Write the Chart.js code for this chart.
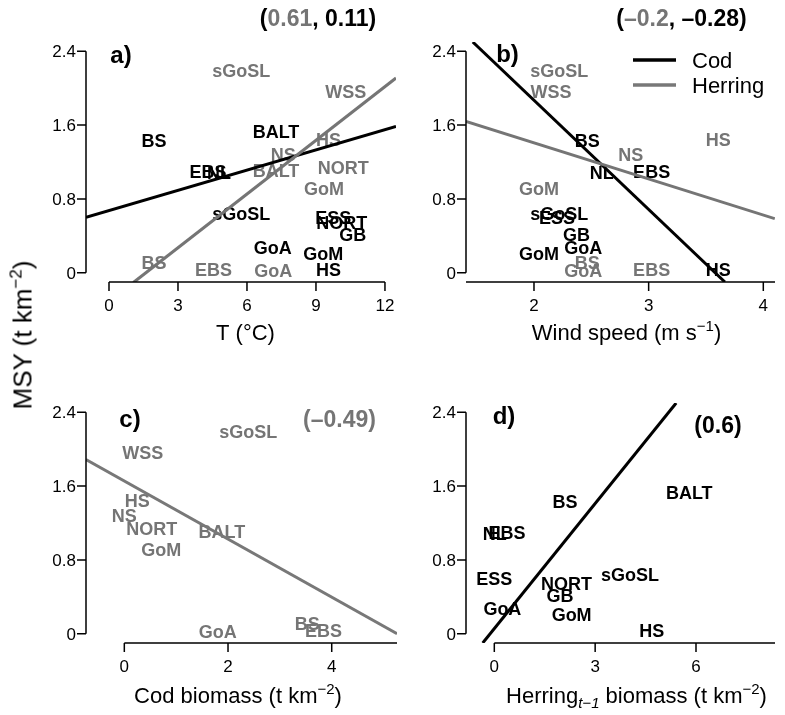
<!DOCTYPE html>
<html>
<head>
<meta charset="utf-8">
<script src="https://cdn.jsdelivr.net/npm/chart.js@4.4.1/dist/chart.umd.min.js"></script>
<style>
  html, body { margin: 0; padding: 0; background: #fff; }
  #wrap { position: relative; width: 785px; height: 715px; overflow: hidden; background: #fff; }
  canvas { position: absolute; }
  #ytitle {
    position: absolute; left: 23px; top: 335px;
    transform: translate(-50%, -50%) rotate(-90deg);
    white-space: nowrap;
    font: 26px "Liberation Sans", Arial, Helvetica, sans-serif;
    color: #000;
  }
  #ytitle sup { font-size: 17px; vertical-align: 10px; line-height: 0; }
</style>
</head>
<body>
<div id="wrap">
  <canvas id="pa" width="400" height="357" style="left:0;top:0;width:400px;height:357px"></canvas>
  <canvas id="pb" width="385" height="357" style="left:400px;top:0;width:385px;height:357px"></canvas>
  <canvas id="pc" width="400" height="358" style="left:0;top:357px;width:400px;height:358px"></canvas>
  <canvas id="pd" width="385" height="358" style="left:400px;top:357px;width:385px;height:358px"></canvas>
  <div id="ytitle">MSY (t km<sup>−2</sup>)</div>
</div>
<script>
// ---- stock data: MSY (t km^-2) against each driver ----
const codNames      = ['BS', 'EBS', 'NL', 'BALT', 'sGoSL', 'ESS', 'NORT', 'GB', 'GoA', 'GoM', 'HS'];
const codMSY        = [1.43, 1.10, 1.09, 1.53, 0.645, 0.60, 0.54, 0.42, 0.27, 0.21, 0.035];
const herringNames  = ['sGoSL', 'WSS', 'HS', 'NS', 'BALT', 'NORT', 'GoM', 'BS', 'EBS', 'GoA'];
const herringMSY    = [2.195, 1.965, 1.44, 1.28, 1.105, 1.145, 0.91, 0.115, 0.035, 0.02];

// a) temperature (°C)
const codTemp       = [1.96, 4.30, 4.78, 7.26, 5.75, 9.75, 10.12, 10.6, 7.12, 9.32, 9.54];
const herringTemp   = [5.75, 10.29, 9.54, 7.58, 7.26, 10.19, 9.35, 1.96, 4.54, 7.14];

// b) wind speed (m s^-1); BALT and NORT cod have no wind record
const codWindNames     = ['BS', 'NL', 'EBS', 'sGoSL', 'ESS', 'GB', 'GoA', 'GoM', 'HS'];
const codWindMSY       = [1.43, 1.09, 1.10, 0.645, 0.60, 0.42, 0.27, 0.21, 0.035];
const codWind          = [2.465, 2.59, 3.026, 2.22, 2.20, 2.37, 2.43, 2.044, 3.607];
const herringWindNames = ['sGoSL', 'WSS', 'NS', 'HS', 'GoM', 'BS', 'GoA', 'EBS'];
const herringWindMSY   = [2.195, 1.965, 1.28, 1.44, 0.91, 0.115, 0.02, 0.035];
const herringWind      = [2.22, 2.148, 2.843, 3.607, 2.044, 2.465, 2.43, 3.026];

// c) herring MSY against cod biomass (t km^-2)
const herringCodBiomass = [2.39, 0.355, 0.25, 0.0, 1.88, 0.53, 0.71, 3.53, 3.84, 1.80];

// d) cod MSY against lagged herring biomass (t km^-2)
const codHerringBiomass = [2.10, 0.38, 0.01, 5.80, 4.04, 0.0, 2.15, 1.955, 0.24, 2.30, 4.68];

// fitted regression lines, given by their end points
const fitTempCodX = [-1.0, 12.48],  fitTempCodY = [0.60, 1.585];
const fitTempHerX = [1.06, 12.48],  fitTempHerY = [-0.106, 2.11];
const fitWindCodX = [1.466, 3.665], fitWindCodY = [2.50, -0.10];
const fitWindHerX = [1.407, 4.10],  fitWindHerY = [1.639, 0.586];
const fitCodBioX  = [-0.74, 5.26],  fitCodBioY  = [1.887, 0.0];
const fitHerBioX  = [-0.345, 5.41], fitHerBioY  = [-0.10, 2.50];

// axis ticks
const yTicks      = [0, 0.8, 1.6, 2.4];
const yTickLabels = ['0', '0.8', '1.6', '2.4'];
const tempTicks   = [0, 3, 6, 9, 12];
const windTicks   = [1, 2, 3, 4, 5];
const codBioTicks = [0, 2, 4, 6];
const herBioTicks = [0, 3, 6, 9];

// ---- drawing helpers ----
const FONT = '"Liberation Sans", Arial, Helvetica, sans-serif';
const GREY = '#757575';
const BLACK = '#000000';

function fontOf(p) {
  return (p.i ? 'italic ' : '') + (p.b ? 'bold ' : '') + (p.s || 22) + 'px ' + FONT;
}
function rich(ctx, parts, x, y, align) {
  let w = 0;
  parts.forEach(p => { ctx.font = fontOf(p); p._w = ctx.measureText(p.t).width; w += p._w; });
  let cx = align === 'left' ? x : align === 'right' ? x - w : x - w / 2;
  ctx.textAlign = 'left';
  ctx.textBaseline = 'alphabetic';
  parts.forEach(p => {
    ctx.font = fontOf(p);
    ctx.fillStyle = p.c || BLACK;
    ctx.fillText(p.t, cx, y + (p.dy || 0));
    cx += p._w;
  });
}
const pts = (xs, ys) => xs.map((x, i) => ({ x: x, y: ys[i] }));

function labelSet(names, xs, ys, color) {
  return { names: names, textColor: color, data: pts(xs, ys), pointRadius: 0, pointHoverRadius: 0, showLine: false };
}
function fitLine(xs, ys, color) {
  return { data: pts(xs, ys), showLine: true, borderColor: color, borderWidth: 3,
           pointRadius: 0, pointHoverRadius: 0, clip: 0, fill: false, tension: 0 };
}

// stock names written at their data positions (under the fitted lines)
const textLabels = {
  id: 'textLabels',
  beforeDatasetsDraw(chart) {
    const ctx = chart.ctx;
    chart.data.datasets.forEach((ds, i) => {
      if (!ds.names) return;
      const meta = chart.getDatasetMeta(i);
      ctx.save();
      ctx.font = 'bold 18px ' + FONT;
      ctx.fillStyle = ds.textColor;
      ctx.textAlign = 'center';
      ctx.textBaseline = 'alphabetic';
      meta.data.forEach((el, j) => ctx.fillText(ds.names[j], el.x, el.y + 6.5));
      ctx.restore();
    });
  }
};

// detached axes in the classic base-graphics style
const classicAxes = {
  id: 'classicAxes',
  afterDatasetsDraw(chart, args, opts) {
    const ctx = chart.ctx, area = chart.chartArea;
    const xs = chart.scales.x, ys = chart.scales.y;
    ctx.save();
    ctx.strokeStyle = BLACK;
    ctx.lineWidth = 1.5;
    ctx.lineCap = 'butt';
    // y axis
    const yl = area.left;
    ctx.beginPath();
    ctx.moveTo(yl, ys.getPixelForValue(yTicks[0]));
    ctx.lineTo(yl, ys.getPixelForValue(yTicks[yTicks.length - 1]));
    yTicks.forEach(v => {
      const py = ys.getPixelForValue(v);
      ctx.moveTo(yl, py); ctx.lineTo(yl - 9, py);
    });
    ctx.stroke();
    ctx.font = '17px ' + FONT;
    ctx.fillStyle = BLACK;
    ctx.textAlign = 'right';
    ctx.textBaseline = 'alphabetic';
    yTicks.forEach((v, i) => ctx.fillText(yTickLabels[i], yl - 10, ys.getPixelForValue(v) + 6));
    // x axis
    const t = opts.ticks;
    const xb = area.bottom;
    const x0 = Math.max(xs.getPixelForValue(t[0]), area.left);
    const x1 = Math.min(xs.getPixelForValue(t[t.length - 1]), area.right);
    ctx.beginPath();
    ctx.moveTo(x0, xb); ctx.lineTo(x1, xb);
    const inside = t.filter(v => v >= xs.min && v <= xs.max);
    inside.forEach(v => {
      const px = xs.getPixelForValue(v);
      ctx.moveTo(px, xb); ctx.lineTo(px, xb + 9);
    });
    ctx.stroke();
    ctx.textAlign = 'center';
    inside.forEach(v => ctx.fillText(String(v), xs.getPixelForValue(v), xb + 29));
    ctx.restore();
  }
};

// titles, panel letters, correlation notes and legend
const decor = {
  id: 'decor',
  afterDraw(chart, args, opts) {
    const ctx = chart.ctx;
    ctx.save();
    (opts.texts || []).forEach(d => rich(ctx, d.parts, d.x, d.y, d.align));
    (opts.legend || []).forEach(l => {
      ctx.strokeStyle = l.color; ctx.lineWidth = 3.5; ctx.lineCap = 'butt';
      ctx.beginPath(); ctx.moveTo(l.x0, l.y); ctx.lineTo(l.x1, l.y); ctx.stroke();
      rich(ctx, [{ t: l.text }], l.x1 + 16, l.y + 7.5, 'left');
    });
    ctx.restore();
  }
};

function panel(id, pad, xMin, xMax, ticks, datasets, texts, legend) {
  return new Chart(document.getElementById(id), {
    type: 'scatter',
    data: { datasets: datasets },
    options: {
      responsive: false,
      animation: false,
      devicePixelRatio: 1,
      layout: { padding: pad },
      scales: {
        x: { type: 'linear', min: xMin, max: xMax, display: false },
        y: { type: 'linear', min: -0.1, max: 2.5, display: false }
      },
      plugins: {
        legend: { display: false },
        tooltip: { enabled: false },
        classicAxes: { ticks: ticks },
        decor: { texts: texts, legend: legend || [] }
      }
    },
    plugins: [textLabels, classicAxes, decor]
  });
}

// a) temperature
panel('pa', { left: 86, right: 4, top: 42, bottom: 75 }, -1.0, 12.48, tempTicks, [
  labelSet(herringNames, herringTemp, herringMSY, GREY),
  labelSet(codNames, codTemp, codMSY, BLACK),
  fitLine(fitTempHerX, fitTempHerY, GREY),
  fitLine(fitTempCodX, fitTempCodY, BLACK)
], [
  { x: 245.5, y: 340, parts: [{ t: 'T (°C)' }] },
  { x: 121, y: 63, parts: [{ t: 'a)', b: 1, s: 24 }] },
  { x: 318, y: 26, parts: [{ t: '(', b: 1, s: 23 }, { t: '0.61', b: 1, s: 23, c: GREY }, { t: ', 0.11)', b: 1, s: 23 }] }
]);

// b) wind speed
panel('pb', { left: 66, right: 10, top: 42, bottom: 75 }, 1.407, 4.102, windTicks, [
  labelSet(herringWindNames, herringWind, herringWindMSY, GREY),
  labelSet(codWindNames, codWind, codWindMSY, BLACK),
  fitLine(fitWindHerX, fitWindHerY, GREY),
  fitLine(fitWindCodX, fitWindCodY, BLACK)
], [
  { x: 226.5, y: 340, parts: [{ t: 'Wind speed (m s' }, { t: '−1', s: 15, dy: -9 }, { t: ')' }] },
  { x: 107.5, y: 62, parts: [{ t: 'b)', b: 1, s: 24 }] },
  { x: 281.5, y: 26, parts: [{ t: '(', b: 1, s: 23 }, { t: '–0.2', b: 1, s: 23, c: GREY }, { t: ', –0.28)', b: 1, s: 23 }] }
], [
  { x0: 233, x1: 276, y: 60, color: BLACK, text: 'Cod' },
  { x0: 233, x1: 276, y: 85, color: '#787878', text: 'Herring' }
]);

// c) herring MSY vs cod biomass
panel('pc', { left: 86, right: 3, top: 46, bottom: 72 }, -0.739, 5.259, codBioTicks, [
  labelSet(herringNames, herringCodBiomass, herringMSY, GREY),
  fitLine(fitCodBioX, fitCodBioY, '#787878')
], [
  { x: 238, y: 346, parts: [{ t: 'Cod biomass (t km' }, { t: '−2', s: 15, dy: -9 }, { t: ')' }] },
  { x: 130, y: 70, parts: [{ t: 'c)', b: 1, s: 24 }] },
  { x: 339.5, y: 70, parts: [{ t: '(–0.49)', b: 1, s: 23, c: GREY }] }
]);

// d) cod MSY vs lagged herring biomass
panel('pd', { left: 66, right: 10, top: 46, bottom: 72 }, -0.842, 8.35, herBioTicks, [
  labelSet(codNames, codHerringBiomass, codMSY, BLACK),
  fitLine(fitHerBioX, fitHerBioY, BLACK)
], [
  { x: 236.5, y: 346, parts: [{ t: 'Herring' }, { t: 't−1', s: 15, i: 1, dy: 5 }, { t: ' biomass (t km' }, { t: '−2', s: 15, dy: -9 }, { t: ')' }] },
  { x: 104, y: 67, parts: [{ t: 'd)', b: 1, s: 24 }] },
  { x: 318, y: 76, parts: [{ t: '(0.6)', b: 1, s: 23 }] }
]);
</script>
</body>
</html>
